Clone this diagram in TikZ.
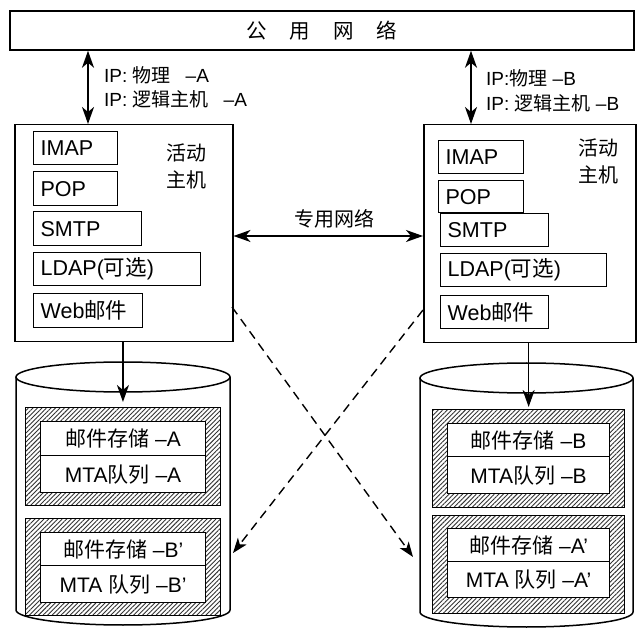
\documentclass[tikz,border=0pt]{standalone}
\usepackage{fontspec}
\setmainfont{Liberation Sans}
\newfontfamily\cjk{Noto Sans CJK SC}
\usetikzlibrary{arrows.meta,patterns.meta,calc}
\newcommand{\zh}[1]{{\cjk #1}}

\begin{document}
\begin{tikzpicture}[x=1pt,y=-1pt,
  frame/.style={draw, line width=1.5pt},
  svc/.style={draw, line width=1.3pt, anchor=north west, align=left,
    inner xsep=7pt, inner ysep=0pt, font=\fontsize{21.5}{24}\selectfont},
  hatch/.style={draw, line width=1.3pt, anchor=north west,
    pattern={Lines[angle=45, distance=3.2pt, line width=0.9pt]}, pattern color=black!80},
  cell/.style={draw, line width=1.2pt, fill=white, anchor=north west,
    inner sep=0pt, font=\fontsize{21}{24}\selectfont},
  lbl/.style={anchor=west, inner sep=0pt, font=\fontsize{19}{21}\selectfont},
  cjklbl/.style={inner sep=0pt, font=\fontsize{20}{23}\cjk},
  tip/.style={-{Stealth[length=17pt,width=12pt,inset=5pt]}},
  dbl/.style={line width=1.5pt, {Stealth[length=17pt,width=12pt,inset=5pt]}-{Stealth[length=17pt,width=12pt,inset=5pt]}}
]
\useasboundingbox (0,0) rectangle (638,631);

% public network bar
\node[frame, minimum width=624pt, minimum height=39pt, inner sep=0pt] (pub) at (322,30.5)
  {\fontsize{20.5}{23}\cjk 公\hspace{23pt}用\hspace{23pt}网\hspace{23pt}络};

% hosts
\node[frame, anchor=north west, minimum width=218pt, minimum height=217pt, inner sep=0pt] (lhost) at (14,124) {};
\node[frame, anchor=north west, minimum width=212pt, minimum height=218pt, inner sep=0pt] (rhost) at (423,124) {};

% services, host A
\node[svc, text width=70pt, minimum height=33pt] (limap) at (33,131) {IMAP};
\node[svc, text width=70pt, minimum height=34pt] (lpop)  at (33,171) {POP};
\node[svc, text width=94pt, minimum height=34pt] (lsmtp) at (33,211) {SMTP};
\node[svc, text width=153pt, minimum height=33pt] (lldap) at (33,252) {LDAP(\zh{可选})};
\node[svc, text width=95pt, minimum height=34pt] (lweb)  at (33,293) {Web\zh{邮件}};
\node[cjklbl, align=center] (lact) at (186,166) {活动\\[4pt]主机};

% services, host B
\node[svc, text width=71pt, minimum height=33pt] (rimap) at (438,140) {IMAP};
\node[svc, text width=71pt, minimum height=32pt] (rpop)  at (438,180) {POP};
\node[svc, text width=94pt, minimum height=33pt] (rsmtp) at (440,213) {SMTP};
\node[svc, text width=152pt, minimum height=33pt] (rldap) at (440,253) {LDAP(\zh{可选})};
\node[svc, text width=94pt, minimum height=33pt] (rweb)  at (440,295) {Web\zh{邮件}};
\node[cjklbl, align=center] (ract) at (598,161) {活动\\[4pt]主机};

% links to the public network
\coordinate (lup) at (88,124);
\coordinate (rup) at (471,124);
\draw[dbl] (lup |- pub.south) -- (lup);
\draw[dbl] (rup |- pub.south) -- (rup);
\node[lbl] (lip1) at (104,75) {IP: \zh{物理}\hspace{15pt}–A};
\node[lbl] (lip2) at (104,99) {IP: \zh{逻辑主机}\hspace{15pt}–A};
\node[lbl] (rip1) at (486,78) {IP:\zh{物理} –B};
\node[lbl] (rip2) at (486,103) {IP: \zh{逻辑主机} –B};

% private network
\coordinate (pn) at (330,236);
\draw[dbl] (lhost.east |- pn) -- (rhost.west |- pn);
\node[cjklbl] (pnet) at (334,219) {专用网络};

% storage cylinders
\draw[line width=1.5pt] (16,377) -- (16,610) arc[start angle=180, end angle=360, x radius=107pt, y radius=15pt] -- (230,377);
\draw[line width=1.5pt, fill=white] (123,377) ellipse[x radius=107pt, y radius=15pt];
\draw[line width=1.5pt] (420,378) -- (420,612) arc[start angle=180, end angle=360, x radius=106.5pt, y radius=15pt] -- (633,378);
\draw[line width=1.5pt, fill=white] (526.5,378) ellipse[x radius=106.5pt, y radius=15pt];

% stores in cylinder A
\node[hatch, minimum width=195pt, minimum height=98pt] (lsa) at (25,407) {};
\node[cell, minimum width=165pt, minimum height=34pt] (lsa1) at (40,421) {\zh{邮件存储} –A};
\node[cell, minimum width=165pt, minimum height=37pt] (lsa2) at (40,455) {MTA\zh{队列} –A};
\node[hatch, minimum width=195pt, minimum height=97pt] (lsb) at (25,518) {};
\node[cell, minimum width=165pt, minimum height=33pt] (lsb1) at (40,532) {\zh{邮件存储} –B'};
\node[cell, minimum width=165pt, minimum height=37pt] (lsb2) at (40,565) {MTA \zh{队列} –B'};

% stores in cylinder B
\node[hatch, minimum width=192pt, minimum height=98pt] (rsa) at (432,409) {};
\node[cell, minimum width=162pt, minimum height=33pt] (rsa1) at (447,423) {\zh{邮件存储} –B};
\node[cell, minimum width=162pt, minimum height=37pt] (rsa2) at (447,456) {MTA\zh{队列} –B};
\node[hatch, minimum width=192pt, minimum height=98pt] (rsb) at (432,515) {};
\node[cell, minimum width=162pt, minimum height=33pt] (rsb1) at (447,528) {\zh{邮件存储} –A'};
\node[cell, minimum width=162pt, minimum height=36pt] (rsb2) at (447,561) {MTA \zh{队列} –A'};

% host to its own store
\draw[line width=1.5pt, tip] (lhost.south -| lsa.north) -- ([yshift=5pt]lsa.north);
\draw[line width=1.5pt, tip] (rhost.south -| rsa.north) -- ([yshift=2pt]rsa.north);

% replication paths to the partner store
\coordinate (ldash) at (232,307);
\coordinate (rdash) at (423,310);
\coordinate (rcylw) at (413,557);
\coordinate (lcyle) at (233,553);
\draw[line width=1.4pt, dash pattern=on 9pt off 6pt, -{Stealth[length=15pt,width=11pt,inset=4pt]}] (ldash) -- (rcylw);
\draw[line width=1.4pt, dash pattern=on 9pt off 6pt, -{Stealth[length=15pt,width=11pt,inset=4pt]}] (rdash) -- (lcyle);
\end{tikzpicture}
\end{document}
